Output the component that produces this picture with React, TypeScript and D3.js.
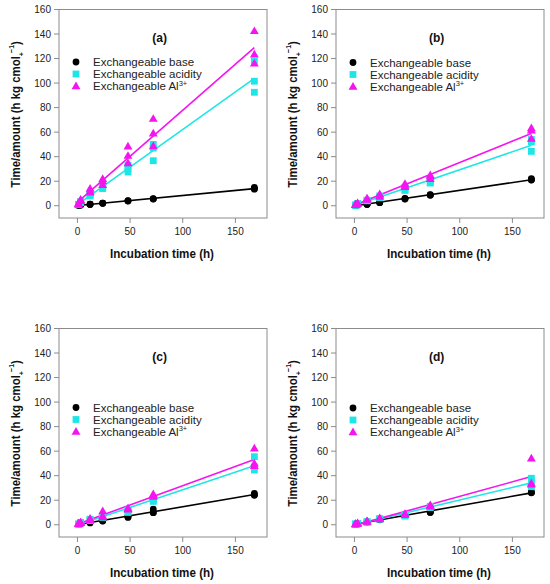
import React from 'react';
import * as d3 from 'd3';

// Sampling times (h)
const TIMES = [1, 3, 12, 24, 48, 72, 168];
const X_TICKS = [0, 50, 100, 150];
const Y_TICKS = [0, 20, 40, 60, 80, 100, 120, 140, 160];
const SERIES_LABELS = ['Exchangeable base', 'Exchangeable acidity', 'Exchangeable Al'];

// Replicate values (time/amount) per sampling time
const baseA = [[0.3, 0.4, 0.3], [0.6, 0.5, 0.7], [1.2, 1.3, 1.1], [2.1, 2.0, 2.2], [4.0, 3.8, 4.2], [5.6, 5.4, 5.8], [15, 14, 13.5]];
const acidA = [[1, 0.8, 1.2], [3, 2.5, 3.5], [10, 9, 8], [17, 15, 14], [33, 30, 27.5], [50, 47, 36.7], [118, 101.5, 92.5]];
const alA = [[1.5, 1, 2], [5, 4, 4.5], [14, 12, 11], [22, 20, 17], [48.4, 40.8, 34.8], [71, 59, 48.6], [142.5, 123.5, 116]];

const baseB = [[0.3, 0.3, 0.4], [0.6, 0.5, 0.5], [1.5, 1.2, 1.0], [3.0, 2.6, 2.5], [6, 5.6, 5.5], [9, 8.8, 8.5], [22, 21.2, 21]];
const acidB = [[0.5, 0.4, 0.6], [1.5, 1.2, 1.8], [4.5, 4.2, 4], [8, 7, 6.5], [15, 13, 12.5], [21, 19, 18.5], [54, 52, 44.3]];
const alB = [[1, 0.8, 1.2], [2, 1.8, 2.2], [6, 5.5, 5], [9.5, 8.5, 7.5], [18, 16.5, 15.5], [25, 24, 22], [63.4, 61.5, 54.7]];

const baseC = [[0.3, 0.4, 0.3], [0.8, 0.7, 0.9], [2, 1.8, 1.5], [3.5, 3.2, 3], [7, 6.5, 6], [12.8, 10, 9.8], [25.6, 24.5, 24]];
const acidC = [[0.5, 0.4, 0.6], [1.6, 1.4, 1.8], [4.5, 4, 3.5], [7, 6.5, 6], [12, 11, 10], [20.7, 20, 19], [55.5, 47, 44.6]];
const alC = [[1, 0.8, 1.2], [2, 1.8, 1.5], [5, 4.5, 4], [11.2, 7, 6.5], [13.4, 13, 12.5], [25, 24, 23], [62.3, 50, 48]];

const baseD = [[0.3, 0.4, 0.3], [0.8, 0.7, 0.9], [2.5, 2.2, 2], [4.5, 4.2, 4], [8, 7.8, 7.5], [10.5, 10.2, 10], [26.7, 26.2, 26]];
const acidD = [[0.5, 0.4, 0.6], [1, 0.9, 1.1], [2.5, 2.2, 2], [5, 4.8, 4.5], [8, 7.5, 7], [15, 14.5, 14], [37.9, 35, 31]];
const alD = [[0.6, 0.5, 0.7], [1.2, 1, 1.3], [3, 2.8, 2.5], [5.5, 5, 4.5], [9, 8.5, 8], [16, 15.5, 15], [54.2, 33.8, 33]];

const COLORS = ['#000000', '#1ee6e6', '#f514f0'];
const FONT = "'Liberation Sans', Arial, sans-serif";

// Frame geometry
const FRAME_W = 208;
const FRAME_H = 208.5;

interface PanelDef {
  label: string;
  left: number;
  top: number;
  legendTop: number;
  series: number[][][];
}

const PANELS: PanelDef[] = [
  { label: '(a)', left: 59, top: 9.5, legendTop: 52.5, series: [baseA, acidA, alA] },
  { label: '(b)', left: 336, top: 9.5, legendTop: 53, series: [baseB, acidB, alB] },
  { label: '(c)', left: 59, top: 328.5, legendTop: 79, series: [baseC, acidC, alC] },
  { label: '(d)', left: 336, top: 328.5, legendTop: 79.5, series: [baseD, acidD, alD] },
];

// Least squares line through all replicate points
function fitLine(values: number[][]) {
  const pts: [number, number][] = [];
  values.forEach((reps, i) => reps.forEach(v => pts.push([TIMES[i], v])));
  const mx = d3.mean(pts, p => p[0])!;
  const my = d3.mean(pts, p => p[1])!;
  const sxy = d3.sum(pts, p => (p[0] - mx) * (p[1] - my));
  const sxx = d3.sum(pts, p => (p[0] - mx) ** 2);
  const slope = sxy / sxx;
  const intercept = my - slope * mx;
  const [x0, x1] = d3.extent(TIMES) as [number, number];
  return [[x0, intercept + slope * x0], [x1, intercept + slope * x1]] as [number, number][];
}

function Marker({ kind, x, y }: { kind: number; x: number; y: number }) {
  if (kind === 0) return <circle cx={x} cy={y} r={3.4} fill={COLORS[0]} />;
  if (kind === 1) return <rect x={x - 3.4} y={y - 3.4} width={6.8} height={6.8} fill={COLORS[1]} />;
  const tri = d3.symbol(d3.symbolTriangle, 34)()!;
  return <path d={tri} transform={`translate(${x},${y + 0.6})`} fill={COLORS[2]} />;
}

function Panel({ p }: { p: PanelDef }) {
  const x = d3.scaleLinear().domain([-17.5, 180]).range([0, FRAME_W]);
  const y = d3.scaleLinear().domain([-10, 160]).range([FRAME_H, 0]);
  const line = d3.line<[number, number]>().x(d => x(d[0])).y(d => y(d[1]));

  return (
    <g transform={`translate(${p.left},${p.top})`}>
      <rect x={0} y={0} width={FRAME_W} height={FRAME_H} fill="none" stroke="#8c8c8c" strokeWidth={1} />
      {Y_TICKS.map(t => (
        <g key={`y${t}`} transform={`translate(0,${y(t)})`}>
          <line x1={-5} x2={0} stroke="#8c8c8c" />
          <text x={-8} dy="0.35em" textAnchor="end" fontSize={10} fill="#222">{t}</text>
        </g>
      ))}
      {X_TICKS.map(t => (
        <g key={`x${t}`} transform={`translate(${x(t)},${FRAME_H})`}>
          <line y1={0} y2={5} stroke="#8c8c8c" />
          <text y={17} textAnchor="middle" fontSize={10} fill="#222">{t}</text>
        </g>
      ))}

      {/* regression lines */}
      {p.series.map((s, k) => (
        <path key={`l${k}`} d={line(fitLine(s))!} fill="none" stroke={COLORS[k]} strokeWidth={1.6} />
      ))}

      {/* replicate points */}
      {p.series.map((s, k) => s.map((reps, i) => reps.map((v, r) => (
        <Marker key={`m${k}-${i}-${r}`} kind={k} x={x(TIMES[i])} y={y(v)} />
      ))))}

      <text x={x(78)} y={32} textAnchor="middle" fontSize={12} fontWeight="bold" fill="#111">{p.label}</text>

      {/* legend */}
      {SERIES_LABELS.map((lab, k) => (
        <g key={`lg${k}`} transform={`translate(0,${p.legendTop + k * 12})`}>
          <Marker kind={k} x={17} y={0} />
          <text x={34} dy="0.36em" fontSize={11.5} fill="#222">
            {lab}
            {k === 2 && <tspan dy={-4.5} fontSize={7.5}>3+</tspan>}
          </text>
        </g>
      ))}

      {/* axis titles */}
      <text x={FRAME_W / 2 - 1} y={FRAME_H + 40} textAnchor="middle" fontSize={13} fontWeight="bold" fill="#111"
        textLength={104} lengthAdjust="spacingAndGlyphs">
        Incubation time (h)
      </text>
      <text transform={`translate(-39,${FRAME_H / 2 + 0.5}) rotate(-90) scale(0.88,1)`} textAnchor="middle" fontSize={13} fontWeight="bold" fill="#111">
        Time/amount (h kg cmol
        <tspan dy={4} fontSize={8}>+</tspan>
        <tspan dy={-10} dx={-1} fontSize={8}>−1</tspan>
        <tspan dy={6}>)</tspan>
      </text>
    </g>
  );
}

export default function App() {
  return (
    <svg width={550} height={584} style={{ position: 'absolute', left: 0, top: 0, background: '#fff' }} fontFamily={FONT}>
      <rect width={550} height={584} fill="#fff" />
      {PANELS.map(p => <Panel key={p.label} p={p} />)}
    </svg>
  );
}
